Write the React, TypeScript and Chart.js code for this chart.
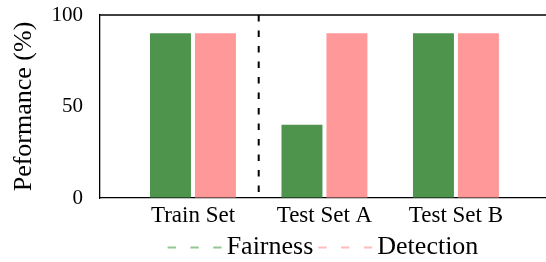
import React, { useEffect, useRef } from "react";
import { Chart, registerables } from "chart.js";

Chart.register(...registerables);

const categories = ["Train Set", "Test Set A", "Test Set B"];
const fairness = [90, 40, 90];
const detection = [90, 90, 90];
const seriesNames = ["Fairness", "Detection"];
const seriesColors = ["#4f944c", "#ff9999"];
const legendColors = ["#94c692", "#ffbcbc"];
const yTicks = [0, 50, 100];
const dividerAt = 0.5;

const SERIF = "'Liberation Serif', 'DejaVu Serif', serif";

const framePlugin = {
  id: "frame",
  afterDatasetsDraw(chart: any) {
    const { ctx, chartArea } = chart;
    const x = chart.scales.x.getPixelForValue(dividerAt);
    ctx.save();
    ctx.strokeStyle = "#000";
    ctx.lineWidth = 2;
    ctx.setLineDash([6.5, 9]);
    ctx.beginPath();
    ctx.moveTo(x, chartArea.top);
    ctx.lineTo(x, chartArea.bottom);
    ctx.stroke();
    ctx.setLineDash([]);
    ctx.lineWidth = 1.3;
    ctx.beginPath();
    ctx.moveTo(chartArea.left, chartArea.top);
    ctx.lineTo(chartArea.right, chartArea.top);
    ctx.stroke();
    ctx.restore();
  },
  afterDraw(chart: any) {
    const { ctx, chartArea } = chart;
    ctx.save();
    ctx.font = `26px ${SERIF}`;
    const handle = 54;
    const gap = 5;
    const itemGap = 5;
    const widths = seriesNames.map((n) => ctx.measureText(n).width);
    let total = 0;
    widths.forEach((w, i) => {
      total += handle + gap + w + (i < widths.length - 1 ? itemGap : 0);
    });
    let x = (chartArea.left + chartArea.right) / 2 - total / 2;
    const lineY = 247.5;
    const textY = 254;
    seriesNames.forEach((name, i) => {
      ctx.strokeStyle = legendColors[i];
      ctx.lineWidth = 2;
      ctx.setLineDash([8.3, 14.5]);
      ctx.beginPath();
      ctx.moveTo(x, lineY);
      ctx.lineTo(x + handle, lineY);
      ctx.stroke();
      ctx.setLineDash([]);
      x += handle + gap;
      ctx.fillStyle = "#000";
      ctx.textBaseline = "alphabetic";
      ctx.textAlign = "left";
      ctx.fillText(name, x, textY);
      x += widths[i] + itemGap;
    });
    ctx.restore();
  },
};

export default function App() {
  const canvasRef = useRef<HTMLCanvasElement>(null);

  useEffect(() => {
    if (!canvasRef.current) return;
    const chart = new Chart(canvasRef.current, {
      type: "bar",
      data: {
        datasets: [
          {
            label: seriesNames[0],
            data: fairness.map((v, i) => ({ x: i, y: v })),
            backgroundColor: seriesColors[0],
            categoryPercentage: 0.684,
            barPercentage: 0.911,
          },
          {
            label: seriesNames[1],
            data: detection.map((v, i) => ({ x: i, y: v })),
            backgroundColor: seriesColors[1],
            categoryPercentage: 0.684,
            barPercentage: 0.911,
          },
        ],
      },
      options: {
        animation: false,
        responsive: true,
        maintainAspectRatio: false,
        layout: { padding: { top: 15, left: 0, right: 0, bottom: 34 } },
        plugins: {
          legend: { display: false },
          tooltip: { enabled: false },
        },
        scales: {
          x: {
            type: "linear",
            offset: false,
            min: -0.707,
            max: 2.685,
            grid: { display: false, drawTicks: false, offset: false },
            border: { display: true, color: "#000", width: 1.3 },
            afterBuildTicks: (scale: any) => {
              scale.ticks = categories.map((_, i) => ({ value: i }));
            },
            afterFit: (scale: any) => {
              scale.height = 30;
            },
            ticks: {
              color: "#000",
              padding: 4,
              font: { family: SERIF, size: 23 },
              callback: (v: any) => categories[v] ?? "",
              maxRotation: 0,
              autoSkip: false,
            },
          },
          y: {
            min: 0,
            max: 100,
            grid: {
              display: true,
              drawOnChartArea: false,
              drawTicks: true,
              tickLength: 17,
              color: "rgba(0,0,0,0)",
            },
            border: { display: true, color: "#000", width: 1.3 },
            afterBuildTicks: (scale: any) => {
              scale.ticks = yTicks.map((v) => ({ value: v }));
            },
            afterFit: (scale: any) => {
              scale.width = 100;
            },
            ticks: {
              color: "#000",
              padding: 0,
              font: { family: SERIF, size: 21 },
            },
            title: {
              display: true,
              text: "Peformance (%)",
              color: "#000",
              font: { family: SERIF, size: 26 },
              padding: { top: 8.5, bottom: 0 },
            },
          },
        },
      },
      plugins: [framePlugin],
    } as any);
    return () => chart.destroy();
  }, []);

  return (
    <div style={{ position: "fixed", left: 0, top: 0, width: 546, height: 262, background: "#fff" }}>
      <canvas ref={canvasRef} style={{ display: "block" }} />
    </div>
  );
}
